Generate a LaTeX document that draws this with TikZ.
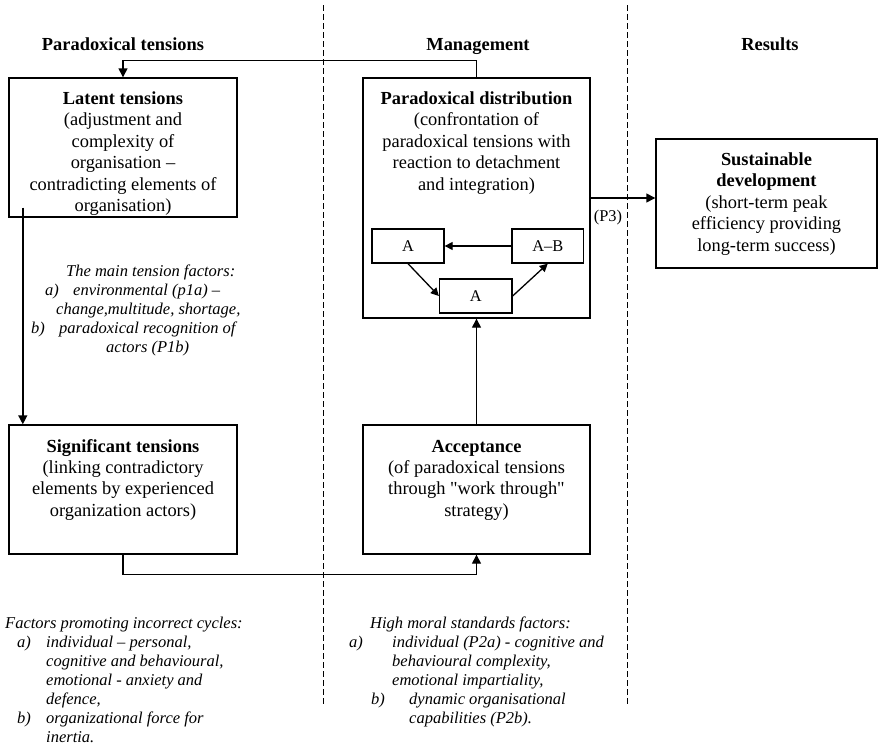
\documentclass[tikz,border=0pt]{standalone}
\usepackage{fontspec}
\setmainfont{Liberation Serif}[Ligatures=TeXOff]
\usetikzlibrary{arrows.meta}

\tikzset{
  box/.style={draw, line width=1.4pt, inner sep=0pt},
  smallbox/.style={draw, line width=1.3pt, inner sep=0pt, minimum width=72pt, minimum height=34pt,
    font=\fontsize{16.4}{19}\selectfont},
  % multi-line texts are placed by the baseline of their last line
  boxtext/.style={anchor=base, inner sep=0pt, align=center, font=\fontsize{18.4}{21.4}\selectfont},
  heading/.style={anchor=base, inner sep=0pt, font=\fontsize{18.4}{21.4}\selectfont\bfseries},
  note/.style={anchor=base west, inner sep=0pt, font=\fontsize{16.5}{19.2}\selectfont\itshape},
  conn/.style={line width=1.4pt},
  arr/.style={conn, -{Triangle[length=9pt,width=9pt]}},
  sarr/.style={line width=1.3pt, -{Triangle[length=8pt,width=8pt]}},
  divider/.style={line width=0.9pt, dash pattern=on 6pt off 3pt},
}

\begin{document}
\begin{tikzpicture}[x=1pt,y=-1pt]
  % canvas
  \path[fill=white] (0,0) rectangle (879,747);
  \useasboundingbox (0,0) rectangle (879,747);

  % column dividers
  \coordinate (d1t) at (323.5,5);
  \coordinate (d1b) at (323.5,704);
  \coordinate (d2t) at (627,5);
  \coordinate (d2b) at (627,704);
  \draw[divider] (d1t) -- (d1b);
  \draw[divider] (d2t) -- (d2b);

  % column headings
  \node[heading] (h1) at (123,50) {Paradoxical tensions};
  \node[heading] (h2) at (478,50) {Management};
  \node[heading] (h3) at (770,50) {Results};

  % main boxes
  \node[box, minimum width=228pt, minimum height=139pt] (latent) at (123,147.5) {};
  \node[box, minimum width=227pt, minimum height=240pt] (dist) at (476.5,198) {};
  \node[box, minimum width=221pt, minimum height=129pt] (sust) at (766.5,203.5) {};
  \node[box, minimum width=228pt, minimum height=129pt] (signif) at (123,489.5) {};
  \node[box, minimum width=227pt, minimum height=129pt] (accept) at (476.5,489.5) {};

  % box texts
  \node[boxtext] (latentT) at (123,211.5) {\textbf{Latent tensions}\\(adjustment and\\complexity of\\organisation –\\contradicting elements of\\organisation)};
  \node[boxtext] (distT) at (476.5,190.1) {\textbf{Paradoxical distribution}\\(confrontation of\\paradoxical tensions with\\reaction to detachment\\and integration)};
  \node[boxtext] (sustT) at (766.5,251.1) {\textbf{Sustainable}\\\textbf{development}\\(short-term peak\\efficiency providing\\long-term success)};
  \node[boxtext] (signifT) at (123,516.2) {\textbf{Significant tensions}\\(linking contradictory\\elements by experienced\\organization actors)};
  \node[boxtext] (acceptT) at (476.5,516.2) {\textbf{Acceptance}\\(of paradoxical tensions\\through "work through"\\strategy)};

  % cycle inside the distribution box
  \node[smallbox] (a1) at (408,246) {A};
  \node[smallbox, minimum width=71.5pt] (ab) at (547.75,246) {A–B};
  \node[smallbox, minimum width=72.5pt] (a2) at (475.75,296) {A};
  \draw[sarr] (ab.west) -- (a1.east);
  \draw[sarr] (a1.south) -- (a2.west);
  \draw[sarr] (a2.east) -- (ab.south);

  % connectors
  \coordinate (vstart) at ([xshift=14.5pt,yshift=10pt]latent.south west);
  \draw[arr] (dist.north) -- ++(0,-17) -| (latent.north);
  \draw[arr] (vstart) -- (vstart |- signif.north);
  \draw[arr] (signif.south) -- ++(0,20) -| (accept.south);
  \draw[arr] (accept.north) -- (dist.south);
  \draw[arr] (dist.east) -- (dist.east -| sust.west);
  \node[inner sep=0pt, font=\fontsize{16.4}{19}\selectfont] (p3) at (608,218) {(P3)};

  % main tension factors
  \node[note] (n1) at (66,276) {The main tension factors:};
  \node[note] (n2a) at (45,295) {a)};
  \node[note] (n2) at (73,295) {environmental (p1a) –};
  \node[note] (n3) at (56,314) {change,multitude, shortage,};
  \node[note] (n4b) at (31,333) {b)};
  \node[note] (n4) at (59,333) {paradoxical recognition of};
  \node[note] (n5) at (106,352) {actors (P1b)};

  % factors promoting incorrect cycles
  \node[note] (f1) at (5,628) {Factors promoting incorrect cycles:};
  \node[note] (f2a) at (17,647) {a)};
  \node[note] (f2) at (46,647) {individual – personal,};
  \node[note] (f3) at (46,666) {cognitive and behavioural,};
  \node[note] (f4) at (46,685) {emotional - anxiety and};
  \node[note] (f5) at (46,704) {defence,};
  \node[note] (f6b) at (17,723) {b)};
  \node[note] (f6) at (46,723) {organizational force for};
  \node[note] (f7) at (46,742) {inertia.};

  % high moral standards factors
  \node[note] (m1) at (370,628) {High moral standards factors:};
  \node[note] (m2a) at (349,647) {a)};
  \node[note] (m2) at (392,647) {individual (P2a) - cognitive and};
  \node[note] (m3) at (392,666) {behavioural complexity,};
  \node[note] (m4) at (392,685) {emotional impartiality,};
  \node[note] (m5b) at (371,704) {b)};
  \node[note] (m5) at (409,704) {dynamic organisational};
  \node[note] (m6) at (409,723) {capabilities (P2b).};
\end{tikzpicture}
\end{document}
